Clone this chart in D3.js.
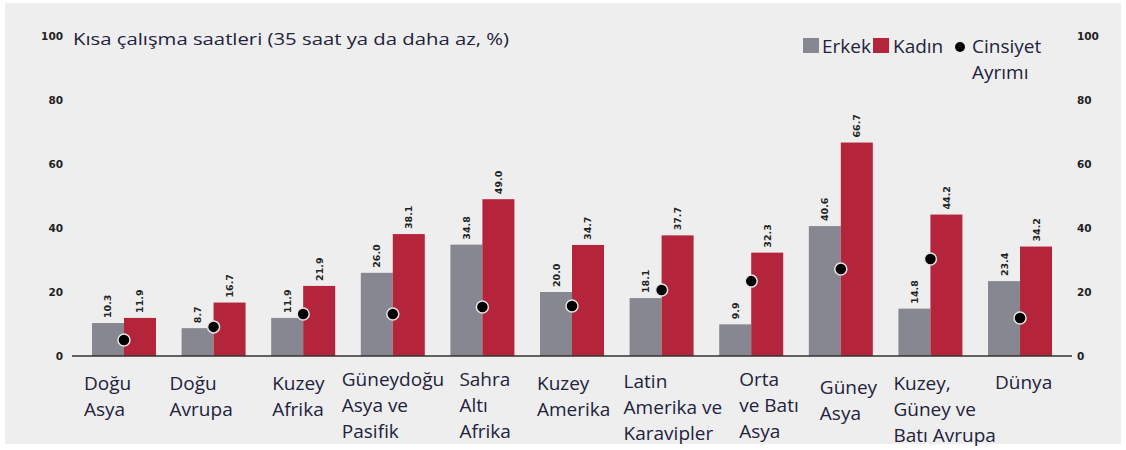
<!DOCTYPE html>
<html>
<head>
<meta charset="utf-8">
<script src="https://cdn.jsdelivr.net/npm/d3@7"></script>
<style>
  body { margin: 0; background: #fff; }
  svg { display: block; }
  .cat { font-family: "Open Sans", sans-serif; font-size: 19px; fill: #22223c; }
  .tick text { font-family: "DejaVu Sans", sans-serif; font-weight: bold; font-size: 10.5px; fill: #222; }
  .val { font-family: "DejaVu Sans", sans-serif; font-weight: bold; font-size: 9.5px; fill: #222; }
</style>
</head>
<body>
<div id="chart"></div>
<script>
// region names, each entry split into the lines shown under the axis
const regions = [
  ["Doğu", "Asya"],
  ["Doğu", "Avrupa"],
  ["Kuzey", "Afrika"],
  ["Güneydoğu", "Asya ve", "Pasifik"],
  ["Sahra", "Altı", "Afrika"],
  ["Kuzey", "Amerika"],
  ["Latin", "Amerika ve", "Karavipler"],
  ["Orta", "ve Batı", "Asya"],
  ["Güney", "Asya"],
  ["Kuzey,", "Güney ve", "Batı Avrupa"],
  ["Dünya"]
];
const erkek = [10.3, 8.7, 11.9, 26.0, 34.8, 20.0, 18.1, 9.9, 40.6, 14.8, 23.4];
const kadin = [11.9, 16.7, 21.9, 38.1, 49.0, 34.7, 37.7, 32.3, 66.7, 44.2, 34.2];
const ayrim = [5.0, 9.1, 13.1, 13.1, 15.3, 15.6, 20.6, 23.4, 27.2, 30.3, 11.9];
const yTicks = [0, 20, 40, 60, 80, 100];

// label nudges (layout only): [dx from group start, baseline]
const labelPos = [[-8, 390], [-12, 390], [1, 390], [-19, 386], [9, 386], [-3, 390],
                  [-6, 388], [20, 386], [11, 394], [-5, 390], [7, 389]];

const W = 1126, H = 450;
const svg = d3.select("#chart").append("svg").attr("width", W).attr("height", H);

svg.append("rect").attr("x", 5).attr("y", 3).attr("width", 1116).attr("height", 441)
  .attr("fill", "#eeeeee");

const keys = d3.range(regions.length);
const x = d3.scaleBand().domain(keys).range([72, 1072]).paddingInner(0.286).paddingOuter(0.223);
const xs = d3.scaleBand().domain(["e", "k"]).range([0, x.bandwidth()]);
const y = d3.scaleLinear().domain([0, 100]).range([356, 36]);

const grey = "#878791", red = "#b4243a";

// axes (no lines, only labels)
const left = svg.append("g").attr("transform", "translate(63,0)")
  .call(d3.axisLeft(y).tickValues(yTicks).tickSize(0).tickPadding(0));
const right = svg.append("g").attr("transform", "translate(1077,0)")
  .call(d3.axisRight(y).tickValues(yTicks).tickSize(0).tickPadding(0));
[left, right].forEach(g => g.select(".domain").remove());

// bars
const grp = svg.append("g").selectAll("g").data(keys).join("g")
  .attr("transform", i => `translate(${x(i)},0)`);

grp.append("rect").attr("x", xs("e")).attr("width", xs.bandwidth())
  .attr("y", i => y(erkek[i])).attr("height", i => y(0) - y(erkek[i])).attr("fill", grey);
grp.append("rect").attr("x", xs("k")).attr("width", xs.bandwidth())
  .attr("y", i => y(kadin[i])).attr("height", i => y(0) - y(kadin[i])).attr("fill", red);

// value labels, rotated
grp.append("text").attr("class", "val")
  .attr("transform", i => `translate(${xs("e") + xs.bandwidth() / 2 + 3.5},${y(erkek[i]) - 5}) rotate(-90)`)
  .text(i => erkek[i].toFixed(1));
grp.append("text").attr("class", "val")
  .attr("transform", i => `translate(${xs("k") + xs.bandwidth() / 2 + 3.5},${y(kadin[i]) - 5}) rotate(-90)`)
  .text(i => kadin[i].toFixed(1));

// baseline
svg.append("line").attr("x1", 72).attr("x2", 1072).attr("y1", y(0)).attr("y2", y(0))
  .attr("stroke", "#333").attr("stroke-width", 1.5);

// gender gap dots
grp.append("circle").attr("cx", x.bandwidth() / 2).attr("cy", i => y(ayrim[i]))
  .attr("r", 6).attr("fill", "#000").attr("stroke", "#e4e4e4").attr("stroke-width", 1.5);

// category labels
svg.append("g").selectAll("text").data(keys).join("text")
  .attr("class", "cat")
  .attr("x", i => x(i) + labelPos[i][0])
  .attr("y", i => labelPos[i][1])
  .each(function (i) {
    d3.select(this).selectAll("tspan").data(regions[i]).join("tspan")
      .attr("x", x(i) + labelPos[i][0])
      .attr("dy", (d, j) => j ? 26 : 0)
      .text(d => d);
  });

// title
svg.append("text").attr("x", 73).attr("y", 45).attr("class", "cat").style("font-size", "17px")
  .attr("textLength", 436).attr("lengthAdjust", "spacingAndGlyphs")
  .text("Kısa çalışma saatleri (35 saat ya da daha az, %)");

// legend
const lg = svg.append("g");
lg.append("rect").attr("x", 803).attr("y", 38).attr("width", 16).attr("height", 15).attr("fill", grey);
lg.append("text").attr("class", "cat").attr("x", 822).attr("y", 53).text("Erkek");
lg.append("rect").attr("x", 873).attr("y", 38).attr("width", 16).attr("height", 15).attr("fill", red);
lg.append("text").attr("class", "cat").attr("x", 893).attr("y", 53).text("Kadın");
lg.append("circle").attr("cx", 960).attr("cy", 47).attr("r", 5).attr("fill", "#000");
lg.append("text").attr("class", "cat").attr("x", 972).attr("y", 53).text("Cinsiyet");
lg.append("text").attr("class", "cat").attr("x", 972).attr("y", 79).text("Ayrımı");
</script>
</body>
</html>
